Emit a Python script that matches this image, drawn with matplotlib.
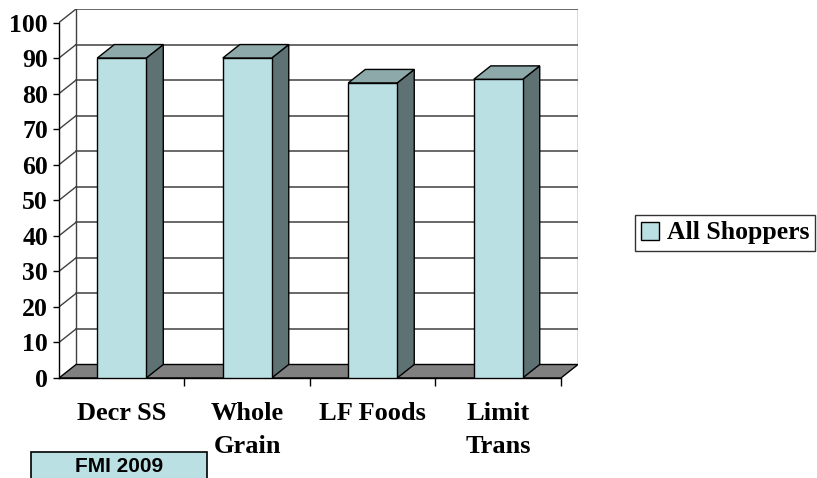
import numpy as np
import matplotlib.pyplot as plt
from matplotlib.patches import Polygon, Rectangle, Patch

# --- data ---
categories = ["Decr SS", "Whole\nGrain", "LF Foods", "Limit\nTrans"]
all_shoppers = [90, 90, 83, 84]
y_ticks = list(range(0, 101, 10))
series_name = "All Shoppers"
source_note = "FMI 2009"

# --- colours / 3d look ---
face_col = "#BBE0E3"
top_col = "#8DA9AA"
side_col = "#5E7274"
floor_col = "#808080"
grid_col = "#404040"
ddx, ddy = 0.136, 3.8   # depth offset (category units, value units)
bar_w = 0.39
n = len(categories)

fig = plt.figure(figsize=(8.17, 4.78), dpi=100)
# front plane of the plot: x 59..560 px, y 378..23 px
x0, x1 = 59 / 817, 578 / 817
y0, y1 = 1 - 378 / 478, 1 - 9 / 478
ax = fig.add_axes([x0, y0, x1 - x0, y1 - y0])
ax.set_xlim(-0.5, n - 0.5 + ddx)
ax.set_ylim(0, 100 + ddy)

serif = ["Liberation Serif", "DejaVu Serif"]

# back wall and left wall grid lines
xl, xr = -0.5, n - 0.5
for v in y_ticks[1:]:
    ax.plot([xl + ddx, xr + ddx], [v + ddy, v + ddy], color=grid_col, lw=1.1, zorder=1)
    ax.plot([xl, xl + ddx], [v, v + ddy], color=grid_col, lw=1.0, zorder=1)
ax.plot([xl + ddx, xl + ddx], [ddy, 100 + ddy], color=grid_col, lw=1.0, zorder=1)
ax.plot([xr + ddx, xr + ddx], [ddy, 100 + ddy], color=grid_col, lw=1.0, zorder=1)

# floor
floor = Polygon([(xl, 0), (xr, 0), (xr + ddx, ddy), (xl + ddx, ddy)],
                closed=True, facecolor=floor_col, edgecolor="black", lw=1.0, zorder=2)
ax.add_patch(floor)

# bars
for i, v in enumerate(all_shoppers):
    a, b = i - bar_w / 2, i + bar_w / 2
    side = Polygon([(b, 0), (b + ddx, ddy), (b + ddx, v + ddy), (b, v)],
                   closed=True, facecolor=side_col, edgecolor="black", lw=1.0, zorder=3)
    top = Polygon([(a, v), (b, v), (b + ddx, v + ddy), (a + ddx, v + ddy)],
                  closed=True, facecolor=top_col, edgecolor="black", lw=1.0, zorder=3)
    front = Rectangle((a, 0), bar_w, v, facecolor=face_col, edgecolor="black", lw=1.0, zorder=4)
    ax.add_patch(side)
    ax.add_patch(top)
    ax.add_patch(front)

# axes: only the front-left value axis and the category axis
for s in ["top", "right"]:
    ax.spines[s].set_visible(False)
ax.spines["left"].set_bounds(0, 100)
ax.spines["bottom"].set_bounds(xl, xr)
ax.spines["left"].set_linewidth(1.0)
ax.spines["bottom"].set_linewidth(1.0)
ax.spines["left"].set_zorder(5)

ax.set_yticks(y_ticks)
ax.set_yticklabels([str(t) for t in y_ticks], fontfamily=serif, fontweight="bold", fontsize=18.5)
ax.tick_params(axis="y", length=4, width=1, pad=4)

ax.set_xticks(range(n))
ax.set_xticklabels(categories, fontfamily=serif, fontweight="bold", fontsize=19,
                   linespacing=1.55, va="top")
ax.set_xticks([i + 0.5 for i in range(n)], minor=True)
ax.tick_params(axis="x", which="major", length=0, pad=17)
ax.tick_params(axis="x", which="minor", length=6, width=1)

# legend
leg = fig.legend(handles=[Patch(facecolor=face_col, edgecolor="black", lw=1.0, label=series_name)],
                 loc="center", bbox_to_anchor=(725 / 817, 1 - 233 / 478),
                 prop={"family": serif, "weight": "bold", "size": 18.5},
                 frameon=True, fancybox=False, shadow=False, edgecolor="black",
                 handlelength=0.7, handleheight=0.7, handletextpad=0.3,
                 borderpad=0.24, borderaxespad=0)
leg.get_frame().set_linewidth(1.0)

# source box
fig.patches.append(Rectangle((31 / 817, -0.01), (207 - 31) / 817, (478 - 452) / 478 + 0.01,
                             transform=fig.transFigure, facecolor=face_col,
                             edgecolor="black", lw=1.2))
fig.text(119 / 817, 1 - 466 / 478, source_note, ha="center", va="center",
         fontfamily=["Liberation Sans", "DejaVu Sans"], fontweight="bold", fontsize=15)

fig.savefig("out.png", dpi=100)
